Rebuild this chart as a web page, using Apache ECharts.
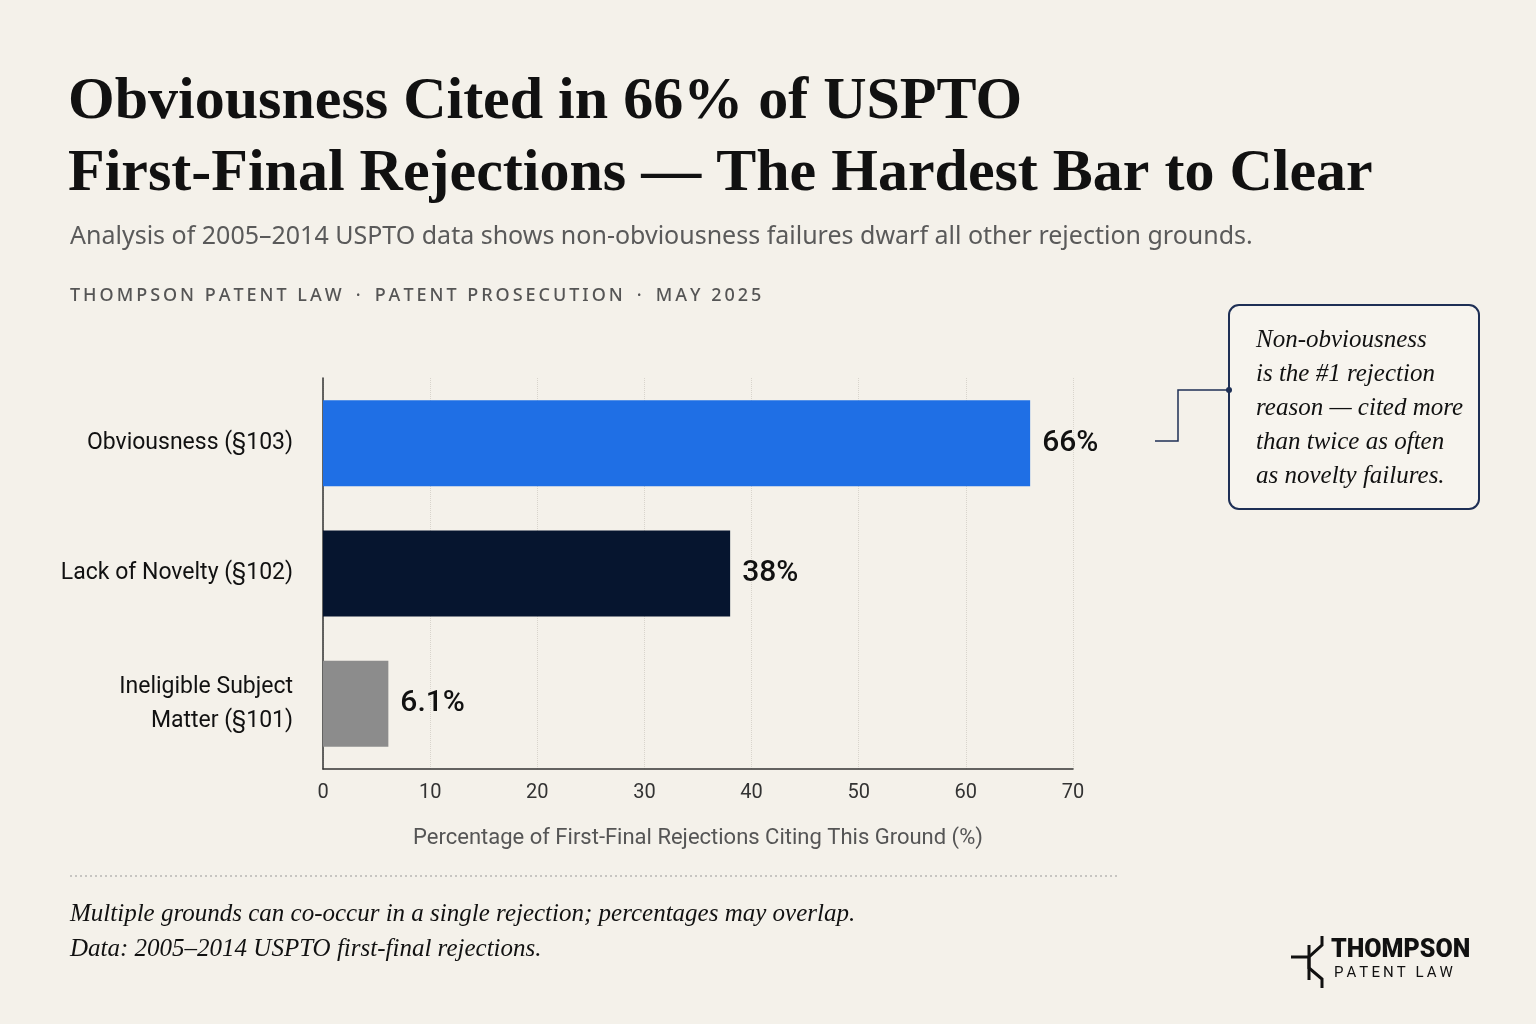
<!DOCTYPE html>
<html><head><meta charset="utf-8">
<script src="https://cdn.jsdelivr.net/npm/echarts@6/dist/echarts.min.js"></script>
<style>html,body{margin:0;padding:0;background:#f4f1ea}#c{width:1536px;height:1024px}</style>
</head><body><div id="c"></div>
<script>
const categories = ["Obviousness (§103)", "Lack of Novelty (§102)", "Ineligible Subject\nMatter (§101)"];
const values = [66, 38, 6.1];
const valueLabels = ["66%", "38%", "6.1%"];
const barColors = ["#1f6fe5", "#06152f", "#8c8c8c"];
const taglineParts = ["THOMPSON PATENT LAW", "PATENT PROSECUTION", "MAY 2025"];

const spaced = s => s.split('').join('\u2009');
const tagline = taglineParts.map(spaced).join('   \u00b7   ');

const chart = echarts.init(document.getElementById('c'));
const serif = "'Liberation Serif', 'DejaVu Serif', serif";
chart.setOption({
  backgroundColor: '#f4f1ea',
  animation: false,
  grid: {left: 323, right: 463, top: 378, bottom: 255},
  xAxis: {
    type: 'value', min: 0, max: 70, interval: 10,
    axisLine: {show: true, lineStyle: {color: '#333', width: 1.5}},
    axisTick: {show: false},
    splitLine: {show: true, lineStyle: {color: '#d8d4cc', type: 'dotted'}},
    axisLabel: {color: '#333', fontSize: 20, fontFamily: 'Roboto', margin: 14},
    name: 'Percentage of First-Final Rejections Citing This Ground (%)',
    nameLocation: 'middle', nameGap: 58,
    nameTextStyle: {color: '#555', fontSize: 22, fontFamily: 'Roboto'}
  },
  yAxis: {
    type: 'category', data: categories, inverse: true,
    axisLine: {show: true, lineStyle: {color: '#333', width: 1.5}},
    axisTick: {show: false},
    axisLabel: {color: '#111', fontSize: 23, fontFamily: 'Roboto', margin: 30, lineHeight: 34, align: 'right'}
  },
  series: [{
    type: 'bar', barWidth: 86,
    data: values.map((v, i) => ({value: v, itemStyle: {color: barColors[i]}})),
    label: {show: true, position: 'right', distance: 12,
      formatter: p => valueLabels[p.dataIndex],
      color: '#111', fontSize: 30, fontWeight: 500, fontFamily: 'Roboto'}
  }],
  graphic: [
    {type: 'text', left: 68, top: 66, style: {text: 'Obviousness Cited in 66% of USPTO\nFirst-Final Rejections — The Hardest Bar to Clear', font: "bold 60px " + serif, fill: '#111', lineHeight: 72}},
    {type: 'text', left: 70, top: 224, style: {text: 'Analysis of 2005–2014 USPTO data shows non-obviousness failures dwarf all other rejection grounds.', font: "25px 'Noto Sans'", fill: '#5a5a5a'}},
    {type: 'text', left: 70, top: 287, style: {text: tagline, font: "500 18px 'Noto Sans'", fill: '#555'}},
    {type: 'rect', shape: {x: 1229, y: 305, width: 250, height: 204, r: 10}, style: {fill: '#f7f4ee', stroke: '#1e2f55', lineWidth: 2}},
    {type: 'text', left: 1256, top: 323, style: {text: 'Non-obviousness\nis the #1 rejection\nreason — cited more\nthan twice as often\nas novelty failures.', font: "italic 25px " + serif, fill: '#111', lineHeight: 34}},
    {type: 'polyline', shape: {points: [[1155, 441], [1178, 441], [1178, 390], [1229, 390]]}, style: {stroke: '#1e2f55', lineWidth: 1.5, fill: null}},
    {type: 'circle', shape: {cx: 1229, cy: 390, r: 3}, style: {fill: '#1e2f55'}},
    {type: 'line', shape: {x1: 70, y1: 876, x2: 1118, y2: 876}, style: {stroke: '#999', lineWidth: 1, lineDash: [2, 3]}},
    {type: 'text', left: 70, top: 897, style: {text: 'Multiple grounds can co-occur in a single rejection; percentages may overlap.\nData: 2005–2014 USPTO first-final rejections.', font: "italic 25px " + serif, fill: '#111', lineHeight: 35}},
    {type: 'polyline', shape: {points: [[1322, 936], [1322, 945], [1309, 957], [1309, 968], [1322, 979], [1322, 988]]}, style: {stroke: '#111', lineWidth: 3, fill: null}},
    {type: 'line', shape: {x1: 1291, y1: 957, x2: 1309, y2: 957}, style: {stroke: '#111', lineWidth: 3}},
    {type: 'line', shape: {x1: 1309, y1: 945, x2: 1309, y2: 980}, style: {stroke: '#111', lineWidth: 3}},
    {type: 'text', left: 1331, top: 938, style: {text: 'THOMPSON', font: "900 25px 'Roboto'", fill: '#111'}},
    {type: 'text', left: 1334, top: 966, style: {text: spaced('PATENT LAW'), font: "15px 'Roboto'", fill: '#111'}}
  ]
});
</script></body></html>
